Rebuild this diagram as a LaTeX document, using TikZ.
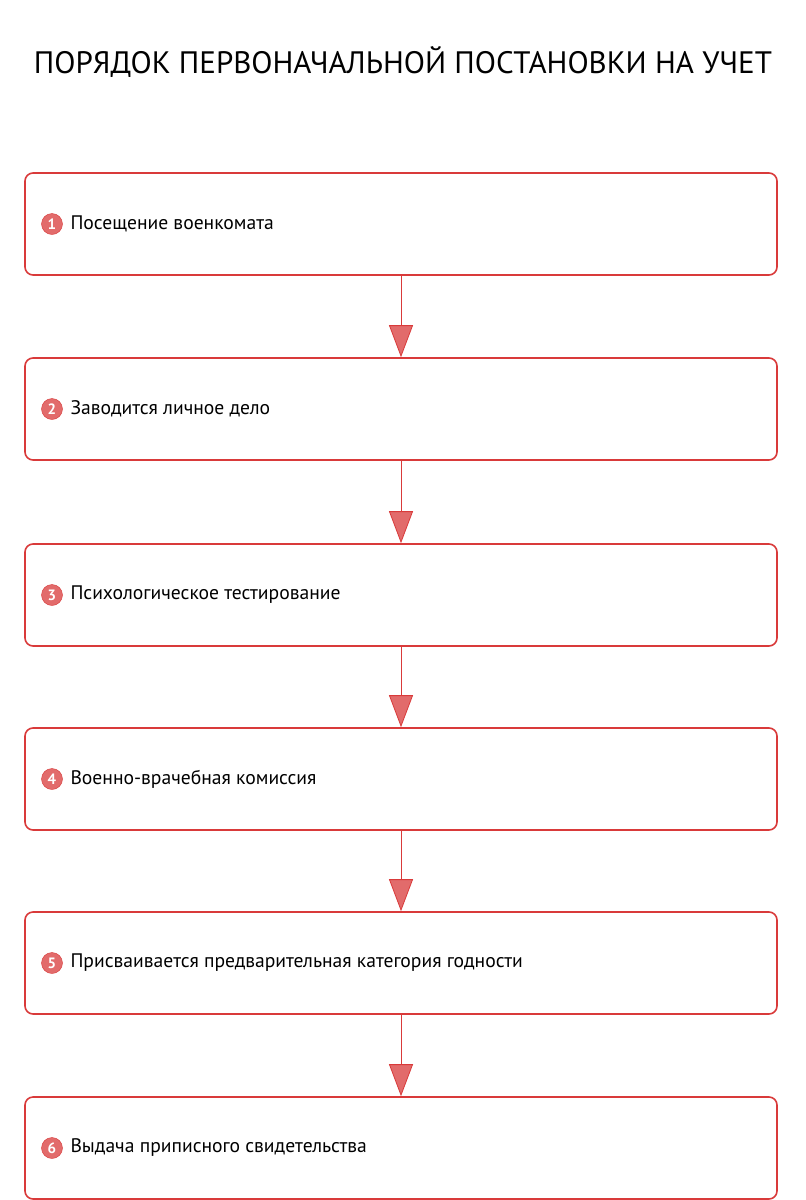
\documentclass[tikz,border=0pt]{standalone}
\usepackage{fontspec}
\setmainfont{PT Sans}
\usetikzlibrary{positioning,arrows.meta}
\definecolor{stepred}{HTML}{D93A3A}
\begin{document}
\begin{tikzpicture}[x=1pt,y=-1pt,
  stepbox/.style={draw=stepred,line width=1.6pt,rounded corners=8pt,minimum width=752pt,minimum height=102pt,inner sep=0pt},
  numdot/.style={circle,fill=stepred!75,draw=stepred,minimum size=21pt,inner sep=0pt,text=white,font=\fontsize{15}{15}\selectfont\bfseries},
  steptext/.style={anchor=west,font=\fontsize{19.6}{24}\selectfont},
  flow/.style={draw=stepred,line width=0.8pt,-{Triangle[width=24pt,length=32pt,fill=stepred!75]}}]
\useasboundingbox (0,0) rectangle (806,1200);
\node[font=\fontsize{31}{36}\selectfont] (title) at (403,62) {ПОРЯДОК ПЕРВОНАЧАЛЬНОЙ ПОСТАНОВКИ НА УЧЕТ};
\foreach \n/\y/\t in {1/224/Посещение военкомата,
                      2/409/Заводится личное дело,
                      3/595/Психологическое тестирование,
                      4/779/Военно-врачебная комиссия,
                      5/963/Присваивается предварительная категория годности,
                      6/1148/Выдача приписного свидетельства}{
  \node[stepbox] (box\n) at (401,\y) {};
  \node[numdot] (num\n) at (52,\y) {\n};
  \node[steptext] (text\n) at (67,\y) {\t};
}
\foreach \a/\b in {1/2,2/3,3/4,4/5,5/6}
  \draw[flow] (box\a.south) -- (box\b.north);
\end{tikzpicture}
\end{document}
